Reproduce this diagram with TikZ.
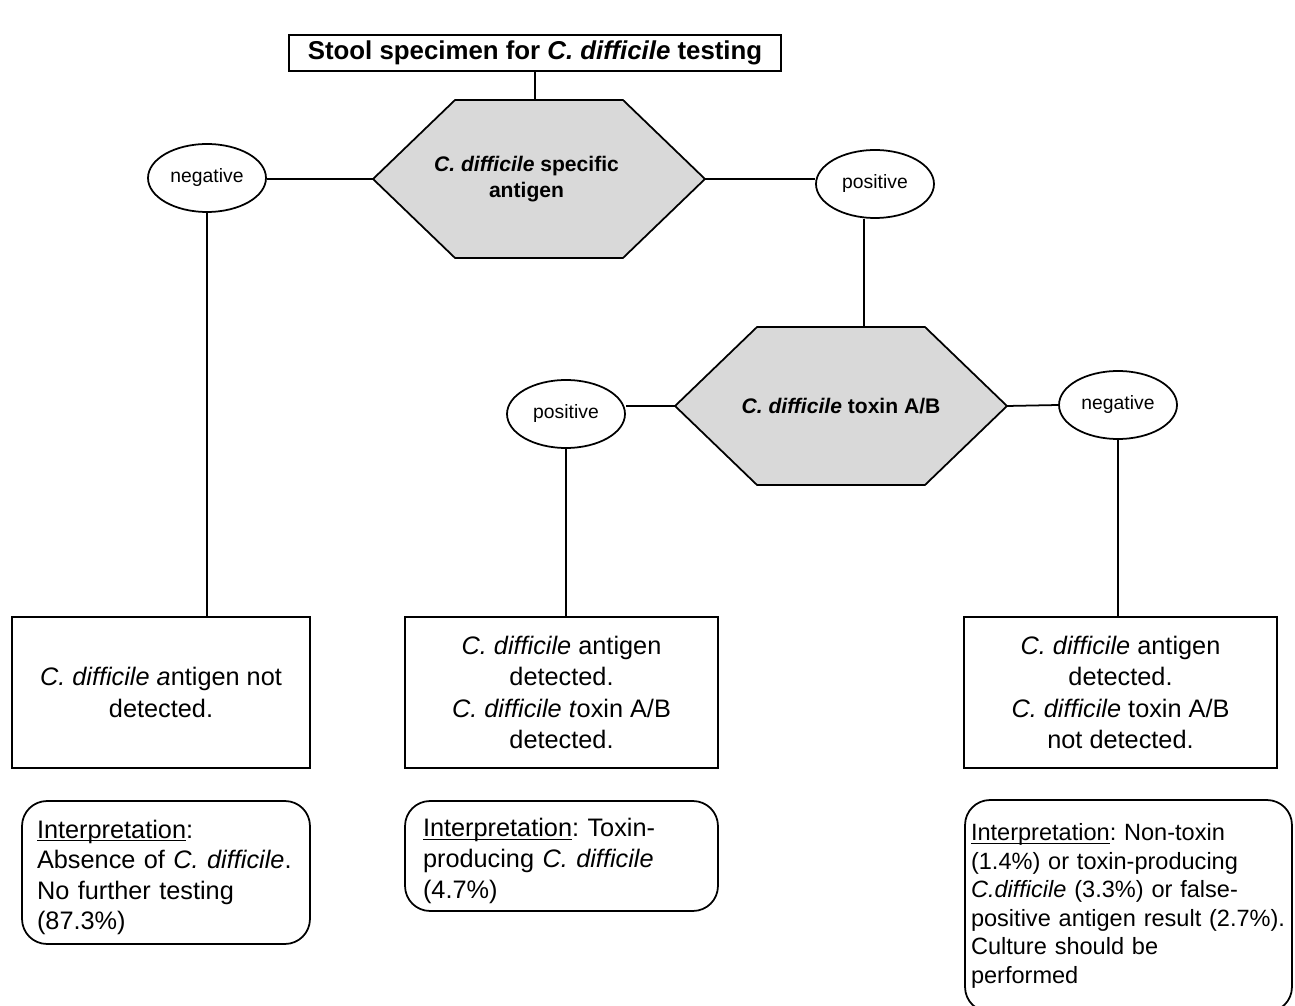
\documentclass[tikz,border=0pt]{standalone}
\usepackage{fontspec}
\setmainfont{Liberation Sans}
\usetikzlibrary{shapes.geometric,backgrounds}

\definecolor{hexgray}{RGB}{217,217,217}

% underline that sits close to the baseline
\newcommand{\ulword}[1]{\leavevmode\setbox0\hbox{#1}\rlap{\rule[-1.9pt]{\wd0}{0.7pt}}\box0}

% grey six-sided frame behind a decision node
\newcommand{\hexback}[1]{%
    \begin{scope}[on background layer]
        \draw[line width=1pt, fill=hexgray] (#1.west)
            -- ([xshift=1.64cm]#1.north west) -- ([xshift=-1.64cm]#1.north east)
            -- (#1.east)
            -- ([xshift=-1.64cm]#1.south east) -- ([xshift=1.64cm]#1.south west)
            -- cycle;
    \end{scope}}

\begin{document}
\frenchspacing
\begin{tikzpicture}[
        x=0.02cm, y=-0.02cm,
        every node/.style={line width=1pt},
        header/.style={draw, minimum width=9.84cm, minimum height=0.72cm,
            inner sep=0pt, font=\fontsize{14.7}{17}\selectfont\bfseries},
        decision/.style={minimum width=6.64cm, minimum height=3.16cm,
            inner sep=0pt, outer sep=0pt,
            align=center, font=\fontsize{12}{14.7}\selectfont\bfseries},
        result/.style={draw, ellipse, minimum width=2.36cm, minimum height=1.36cm,
            inner sep=0pt, font=\fontsize{11}{13}\selectfont},
        finding/.style={draw, minimum height=3.02cm, inner sep=0pt,
            align=center, font=\fontsize{14.4}{17.9}\selectfont},
        interp/.style={draw, rounded corners=0.5cm, align=left,
            font=\fontsize{14.4}{17.4}\selectfont}
    ]
    \useasboundingbox (0,0) rectangle (1295,1006);

    % top of the tree
    \node[header] (spec) at (535,53)
        {Stool specimen for \textit{C. difficile} testing};
    \node[decision] (antigen) at (539,179)
        {\hspace*{-0.5cm}\textit{C. difficile} specific\\\hspace*{-0.5cm}antigen};
    \hexback{antigen}
    \node[result] (neg1) at (207,178) {negative};
    \node[result] (pos1) at (875,184) {positive};

    % second test
    \node[decision] (toxin) at (841,406) {\textit{C. difficile} toxin A/B};
    \hexback{toxin}
    \node[result] (pos2) at (566,414) {positive};
    \node[result] (neg2) at (1118,405) {negative};

    % findings
    \node[finding, minimum width=5.96cm] (nodet) at (161,692.5)
        {\textit{C. difficile a}ntigen not\\detected.};
    \node[finding, minimum width=6.26cm] (bothdet) at (561.5,692.5)
        {\textit{C. difficile} antigen\\detected.\\\textit{C. difficile t}oxin A/B\\detected.};
    \node[finding, minimum width=6.26cm] (agdet) at (1120.5,692.5)
        {\textit{C. difficile} antigen\\detected.\\\textit{C. difficile} toxin A/B\\not detected.};

    % interpretations
    \node[interp, minimum height=2.86cm, text width=5.16cm, inner xsep=0.3cm] (int1) at (166,872.5)
        {\rule{0pt}{16pt}\ulword{Interpretation}:\\Absence of \textit{C. difficile}.\\No further testing\\(87.3\%)};
    \node[interp, minimum height=2.2cm, text width=5.54cm, inner xsep=0.36cm] (int2) at (561.5,856)
        {\rule{0pt}{16pt}\ulword{Interpretation}: Toxin-\\producing \textit{C. difficile}\\(4.7\%)};
    \node[interp, minimum height=4.24cm, text width=6.3cm, inner xsep=0.12cm,
        font=\fontsize{13.4}{16.2}\selectfont] (int3) at (1128.5,906)
        {\ulword{Interpretation}: Non-toxin\\(1.4\%) or toxin-producing\\\textit{C.difficile} (3.3\%) or false-\\positive antigen result (2.7\%).\\Culture should be\\performed};

    % connectors
    \draw[line width=1pt] (spec.south) -- (spec.south |- antigen.north);
    \draw[line width=1pt] (antigen.west) -- (antigen.west -| neg1.east);
    \draw[line width=1pt] (antigen.east) -- (antigen.east -| pos1.west);
    \draw[line width=1pt] ([xshift=-0.22cm]pos1.south) -- ([xshift=-0.22cm]pos1.south |- toxin.north);
    \draw[line width=1pt] (toxin.west) -- (toxin.west -| pos2.east);
    \draw[line width=1pt] (toxin.east) -- (neg2.west);
    \draw[line width=1pt] (neg1.south) -- (neg1.south |- nodet.north);
    \draw[line width=1pt] (pos2.south) -- (pos2.south |- bothdet.north);
    \draw[line width=1pt] (neg2.south) -- (neg2.south |- agdet.north);
\end{tikzpicture}
\end{document}
